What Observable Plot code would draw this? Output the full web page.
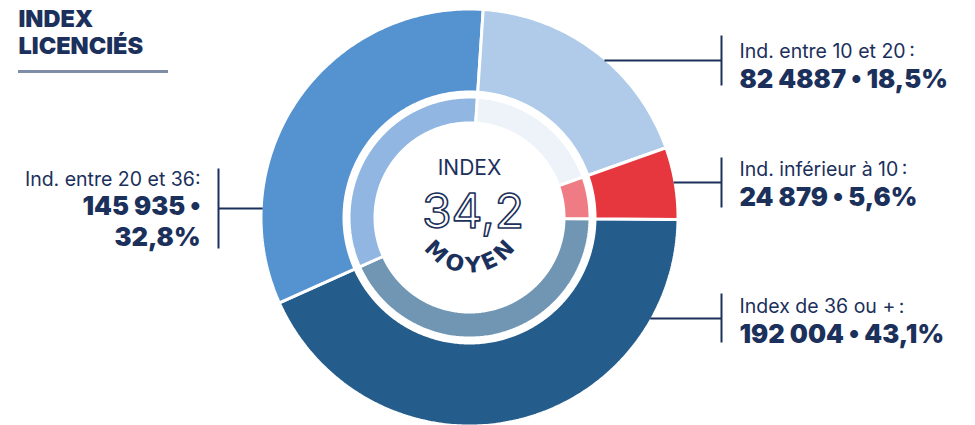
<!DOCTYPE html>
<html><head><meta charset="utf-8">
<script src="https://cdn.jsdelivr.net/npm/d3@7"></script>
<script src="https://cdn.jsdelivr.net/npm/@observablehq/plot@0.6"></script>
<style>body{margin:0;background:#fff;} #chart{width:975px;height:425px;}</style>
</head><body><div id="chart"></div>
<script>
// ---- data ----
const categories = ["Index de 36 ou +", "Ind. entre 20 et 36", "Ind. entre 10 et 20", "Ind. inférieur à 10"];
const counts = [192004, 145935, 82487, 24879];
const countLabels = ["192 004", "145 935", "82 4887", "24 879"];
const percentLabels = ["43,1%", "32,8%", "18,5%", "5,6%"];
const outerColors = ["#245c8b", "#5592d0", "#afcbe9", "#e6373f"];
const innerColors = ["#7096b4", "#90b6e1", "#edf3f9", "#ef7c84"];
const titleText = "INDEX\nLICENCIÉS";
const centerTop = "INDEX";
const meanValue = "34,2";
const centerBottom = "MOYEN";

// ---- layout ----
const W = 975, H = 425, CX = 469, CY = 217;
const NAVY = "#1b305b";
const R = 207;                       // outer radius (visible)
const rings = [
  {name: "outer", r0: 125.5, r1: 208.5, colors: outerColors},
  {name: "inner", r0: 94.5, r1: 120.5, colors: innerColors}
];
const toY = py => CY - py;           // pixel row -> plot units
const toX = px => px - CX;

const pie = d3.pie().sort(null).value(d => d)
  .startAngle(Math.PI / 2 + 0.01).endAngle(Math.PI / 2 + 0.01 + 2 * Math.PI);
const arcs = pie(counts);

const ringPts = [];
const keys = [], keyColors = [];
rings.forEach(rg => {
  arcs.forEach((a, i) => {
    const key = rg.name + i;
    keys.push(key); keyColors.push(rg.colors[i]);
    const n = Math.max(10, Math.ceil((a.endAngle - a.startAngle) * 80));
    const poly = [];
    for (let k = 0; k <= n; k++) {
      const t = a.startAngle + (a.endAngle - a.startAngle) * k / n;
      poly.push([rg.r1 * Math.sin(t), rg.r1 * Math.cos(t)]);
    }
    for (let k = n; k >= 0; k--) {
      const t = a.startAngle + (a.endAngle - a.startAngle) * k / n;
      poly.push([rg.r0 * Math.sin(t), rg.r0 * Math.cos(t)]);
    }
    poly.push(poly[0]);
    poly.forEach(p => ringPts.push({x: p[0], y: p[1], key}));
  });
});

// label placement (pixel rows of the reference)
const labelLayout = [
  {i: 0, side: "right", lead: 318, top: 293, bottom: 342, l1: 312, l2: 342, colon: "\u2009:"},
  {i: 1, side: "left",  lead: 208, top: 168, bottom: 248, l1: 185, l2: 245, colon: ":"},
  {i: 2, side: "right", lead: 60,  top: 35,  bottom: 85,  l1: 57,  l2: 87,  colon: "\u2009:"},
  {i: 3, side: "right", lead: 182, top: 157, bottom: 207, l1: 175, l2: 205, colon: "\u2009:"}
];
const barXRight = toX(721), textXRight = toX(739);
const barXLeft = toX(218), textXLeft = toX(200);

const leaders = labelLayout.map(L => {
  const y = toY(L.lead);
  const rx = Math.sqrt(R * R - y * y);
  return L.side === "right"
    ? {x1: rx, x2: barXRight, y1: y, y2: y}
    : {x1: -rx, x2: barXLeft, y1: y, y2: y};
});
const bars = labelLayout.map(L => ({
  x: L.side === "right" ? barXRight : barXLeft, y1: toY(L.top), y2: toY(L.bottom)
}));
const line1 = labelLayout.map(L => ({
  side: L.side,
  x: L.side === "right" ? textXRight : textXLeft, y: toY(L.l1),
  text: categories[L.i] + L.colon
}));
const line2 = labelLayout.map(L => ({
  side: L.side,
  x: L.side === "right" ? textXRight : textXLeft, y: toY(L.l2),
  text: L.side === "right"
    ? countLabels[L.i] + " \u2022 " + percentLabels[L.i]
    : countLabels[L.i] + " \u2022\n" + percentLabels[L.i]
}));
const R1 = line1.filter(d => d.side === "right"), L1 = line1.filter(d => d.side === "left");
const R2 = line2.filter(d => d.side === "right"), L2 = line2.filter(d => d.side === "left");

// "MOYEN" set along an arc (like a textPath): advance widths measured on a canvas
const arcFontSize = 22;
const arcFont = `bold ${arcFontSize}px 'DejaVu Sans'`;
const arcSpacing = 1.5, arcRadius = 48;
const ctx = document.createElement("canvas").getContext("2d");
ctx.font = arcFont;
const chars = centerBottom.split("");
const adv = chars.map(c => ctx.measureText(c).width + arcSpacing);
const total = d3.sum(adv) - arcSpacing;
let acc = -total / 2;
const letters = chars.map((c, i) => {
  const s = acc + (adv[i] - arcSpacing) / 2;
  acc += adv[i];
  const th = s / arcRadius;
  return {c, x: arcRadius * Math.sin(th), y: -arcRadius * Math.cos(th), rot: -th * 180 / Math.PI};
});

const lab1 = {x: "x", y: "y", text: "text", lineAnchor: "bottom", fontSize: 19.5, fontWeight: 400, fill: NAVY};
const lab2 = {x: "x", y: "y", text: "text", lineAnchor: "bottom", lineHeight: 1.2, fontSize: 25.5, fontWeight: 900, fill: NAVY};

const plot = Plot.plot({
  width: W, height: H, margin: 0,
  x: {domain: [-CX, W - CX], range: [0, W], axis: null},
  y: {domain: [CY - H, CY], range: [H, 0], axis: null},
  color: {domain: keys, range: keyColors},
  style: {fontFamily: "Inter, 'Noto Sans', sans-serif", background: "white", overflow: "visible"},
  marks: [
    Plot.line(ringPts, {x: "x", y: "y", z: "key", fill: "key", stroke: "white", strokeWidth: 3, curve: "linear", strokeLinejoin: "miter"}),
    // leaders
    Plot.link(leaders, {x1: "x1", x2: "x2", y1: "y1", y2: "y2", stroke: NAVY, strokeWidth: 2}),
    Plot.link(bars, {x1: "x", x2: "x", y1: "y1", y2: "y2", stroke: NAVY, strokeWidth: 2}),
    // label texts
    Plot.text(R1, {...lab1, textAnchor: "start"}),
    Plot.text(L1, {...lab1, textAnchor: "end"}),
    Plot.text(R2, {...lab2, textAnchor: "start"}),
    Plot.text(L2, {...lab2, textAnchor: "end"}),
    // title
    Plot.text([titleText], {x: toX(18), y: toY(53), text: d => d, textAnchor: "start", lineAnchor: "bottom", lineHeight: 1.13, fontSize: 23.5, fontWeight: 900, fill: NAVY}),
    Plot.ruleY([toY(71)], {x1: toX(18), x2: toX(168), stroke: "#7f8ea8", strokeWidth: 3}),
    // center
    Plot.text([centerTop], {x: 0, y: toY(174), text: d => d, textAnchor: "middle", lineAnchor: "bottom", fontSize: 21, fontWeight: 400, fill: NAVY}),
    Plot.text([meanValue], {x: 0, y: toY(227), dx: 3.5, text: d => d, textAnchor: "middle", lineAnchor: "bottom", fontSize: 48, fontWeight: 400, fill: "white", stroke: NAVY, strokeWidth: 1.6, paintOrder: "normal", ariaLabel: "mean"}),
    Plot.text(letters, {x: "x", y: "y", text: "c", rotate: "rot", textAnchor: "middle", lineAnchor: "middle", fontFamily: "'DejaVu Sans'", fontSize: arcFontSize, fontWeight: "bold", fill: NAVY})
  ]
});
document.getElementById("chart").appendChild(plot);
d3.select(plot).selectAll('g[aria-label="mean"] text').style("letter-spacing", "7px");
</script>
</body></html>
